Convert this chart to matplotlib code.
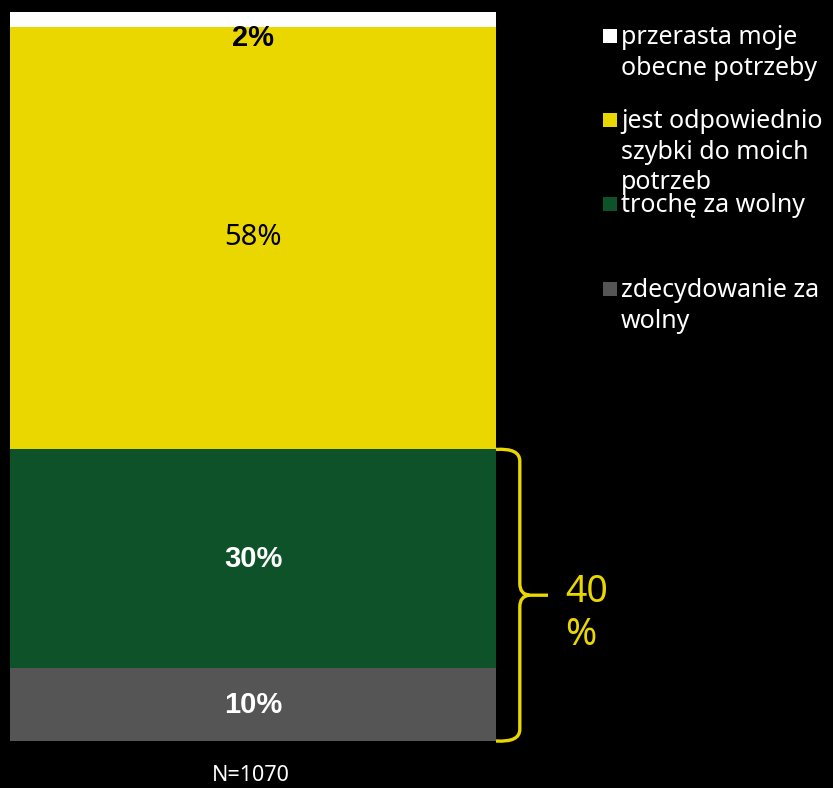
import numpy as np
import matplotlib
matplotlib.use('Agg')
import matplotlib.pyplot as plt
from matplotlib.path import Path
from matplotlib.patches import PathPatch, Rectangle

# data, bottom to top
categories = ['zdecydowanie za\nwolny', 'trochę za wolny',
              'jest odpowiednio\nszybki do moich\npotrzeb',
              'przerasta moje\nobecne potrzeby']
values = [10, 30, 58, 2]
labels = ['10%', '30%', '58%', '2%']
colors = ['#555555', '#0E5229', '#EBD700', '#FFFFFF']
label_colors = ['white', 'white', 'black', 'black']
label_bold = [True, True, False, True]
brace_total = '40\n%'
n_text = 'N=1070'

FONT = 'Noto Sans'
YEL = '#EBD700'

W, H = 833, 788
fig = plt.figure(figsize=(W/100, H/100), dpi=100, facecolor='black')
# axes spans the bar area only
ax = fig.add_axes([10/W, (H-741)/H, 486/W, 729/H])
ax.set_facecolor('black')
ax.set_xlim(-0.5, 0.5)
ax.set_ylim(0, sum(values))
ax.axis('off')

bottom = 0
for i, v in enumerate(values):
	ax.bar(0, v, width=1, bottom=bottom, color=colors[i], linewidth=0)
	if i == len(values)-1:
		ly = bottom - 1.5  # small top slice: label sits just under it
	else:
		ly = bottom + v/2
	if label_bold[i]:
		ax.text(0, ly, labels[i], ha='center', va='center', color=label_colors[i],
				fontsize=21, fontweight='bold', family='Liberation Sans')
	else:
		ax.text(0, ly, labels[i], ha='center', va='center', color=label_colors[i],
				fontsize=21, family=FONT)
	bottom += v

# brace over the two lower segments
top = values[0] + values[1]
mid = top/2
xv, xt, r = 0.549, 0.607, 1.6
verts = [(0.5, top), (xv, top+0.2), (xv, top-r),
		 (xv, mid+r), (xv, mid+0.1), (xv+0.02, mid),
		 (xt, mid),
		 (xv+0.02, mid), (xv, mid-0.1), (xv, mid-r),
		 (xv, r), (xv, -0.2), (0.5, 0)]
codes = [Path.MOVETO, Path.CURVE3, Path.CURVE3,
		 Path.LINETO, Path.CURVE3, Path.CURVE3,
		 Path.LINETO,
		 Path.MOVETO, Path.CURVE3, Path.CURVE3,
		 Path.LINETO, Path.CURVE3, Path.CURVE3]
ax.add_patch(PathPatch(Path(verts, codes), fill=False, edgecolor=YEL,
					   linewidth=2.4, clip_on=False, capstyle='butt'))
ax.text(0.642, mid-2.5, brace_total, ha='left', va='center', color=YEL,
		fontsize=27, family=FONT, linespacing=1.15)

ax.text(-0.005, -0.047, n_text, transform=ax.get_xaxis_transform(), ha='center',
		va='center', color='white', fontsize=15.5, family=FONT)

# legend, drawn by hand (top entry first)
ly_px = [36, 120, 204, 289]
for j, i in enumerate(range(len(values)-1, -1, -1)):
	y = 1 - ly_px[j]/H
	fig.patches.append(Rectangle((603/W, y-7/H), 14/W, 14/H, transform=fig.transFigure,
								 facecolor=colors[i], edgecolor='none'))
	fig.text(621/W, y + 11/H, categories[i], ha='left', va='top', color='white',
			 fontsize=18, family=FONT, linespacing=1.3)

fig.savefig('out.png', dpi=100, facecolor='black')
